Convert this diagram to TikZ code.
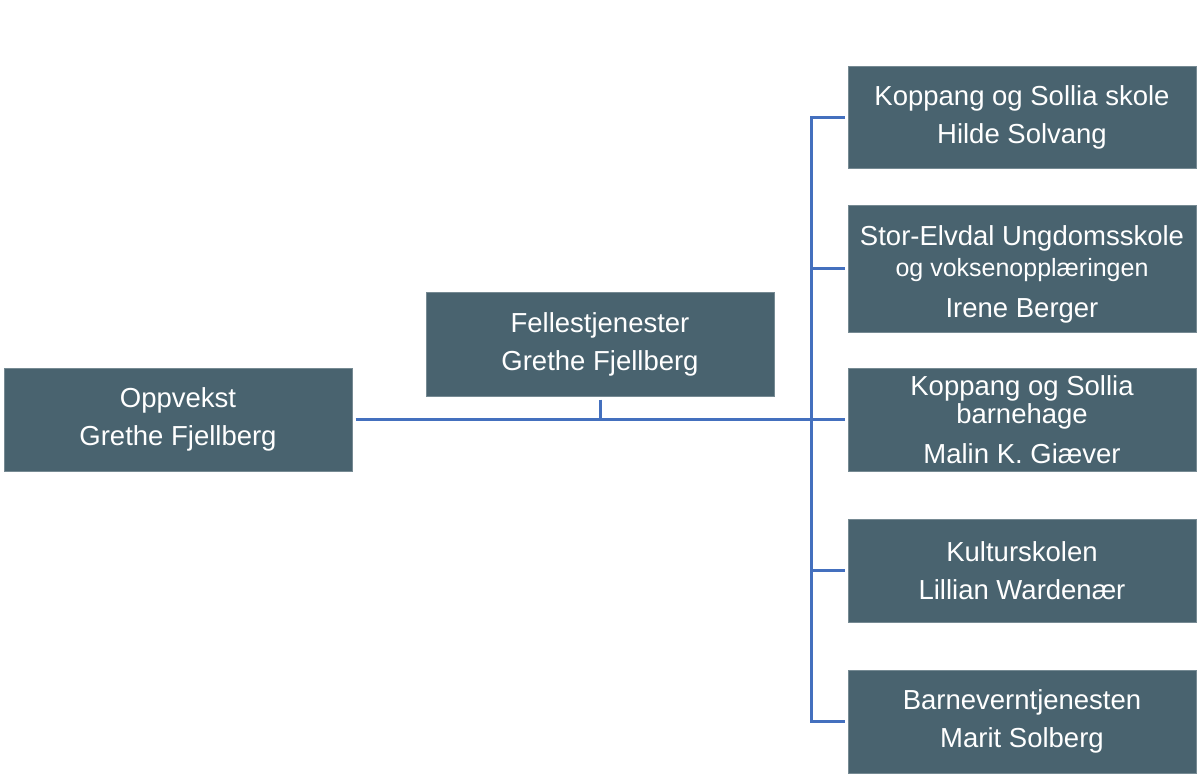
\documentclass[tikz,border=0pt]{standalone}
\usepackage{fontspec}
\setmainfont{Liberation Sans}
\usetikzlibrary{calc}
\definecolor{boxfill}{RGB}{73,99,111}
\definecolor{busline}{RGB}{68,112,190}
\tikzset{
  unitbox/.style={rectangle, fill=boxfill, draw=boxfill!75!white, line width=0.6pt,
    text=white, align=center, inner sep=0pt, outer sep=3.5pt,
    minimum width=348, minimum height=103,
    font={\fontsize{27.5}{28}\selectfont}},
  orgline/.style={draw=busline, line width=3pt}
}
\begin{document}
\begin{tikzpicture}[x=1pt, y=1pt]
            \useasboundingbox (0,0) rectangle (1200,-777);
            % units
            \node[unitbox] (oppvekst) at (178,-419.5) {Oppvekst\\[10pt]Grethe Fjellberg};
            \node[unitbox, minimum height=104] (felles) at (600,-344) {Fellestjenester\\[10pt]Grethe Fjellberg};
            \node[unitbox, minimum height=102] (skole) at (1022,-117) {Koppang og Sollia skole\\[10pt]Hilde Solvang};
            \node[unitbox, minimum height=127] (ungdom) at (1022,-268.5) {\rule{0pt}{32pt}Stor-Elvdal Ungdomsskole\\[3pt]{\fontsize{25}{28}\selectfont og voksenopplæringen}\\[13pt]Irene Berger};
            \node[unitbox] (barnehage) at (1022,-419.5) {Koppang og Sollia\\barnehage\\[12pt]Malin K. Giæver};
            \node[unitbox] (kultur) at (1022,-570.5) {Kulturskolen\\[10pt]Lillian Wardenær};
            \node[unitbox] (barnevern) at (1022,-721.5) {Barneverntjenesten\\[10pt]Marit Solberg};
            % connectors
            \coordinate (bus) at (811,0);
            \draw[orgline] (oppvekst) -- (barnehage);
            \draw[orgline] (felles.south) -- (felles.south |- oppvekst.east);
            \draw[orgline, line cap=rect] (skole.west -| bus) -- (barnevern.west -| bus);
            \foreach \n in {skole,ungdom,barnehage,kultur,barnevern}
                \draw[orgline] (\n.west -| bus) -- (\n.west);
        \end{tikzpicture}
\end{document}
